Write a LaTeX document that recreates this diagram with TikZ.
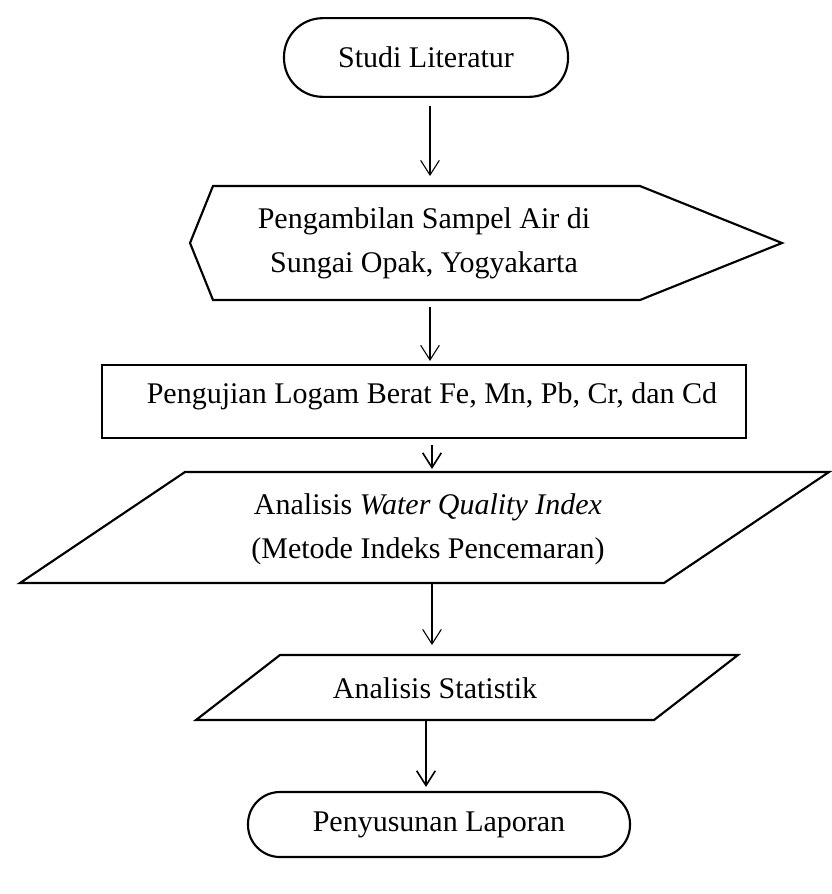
\documentclass[tikz,border=0pt]{standalone}
\usepackage{fontspec}
\setmainfont{Liberation Serif}
\usetikzlibrary{arrows.meta}
\begin{document}
\begin{tikzpicture}[x=0.75pt,y=-0.75pt,
  shapeline/.style={line width=1.6pt, line join=miter},
  lbl/.style={font=\fontsize{22.5}{33}\selectfont, align=center, inner sep=0pt},
  terminal/.style={draw, shapeline, rectangle, inner sep=0pt, font=\fontsize{22.5}{33}\selectfont},
  procbox/.style={draw, shapeline, rectangle, inner sep=0pt},
  thinarrow/.style={line width=0.8pt, -{Straight Barb[length=11pt,width=14pt,line width=0.8pt]}},
  thickarrow/.style={line width=1.5pt, -{Straight Barb[length=11pt,width=14pt,line width=1.2pt]}},
]
\useasboundingbox (0,0) rectangle (832,894);

% Terminal 1
\node[terminal, rounded corners=29pt, minimum width=213pt, minimum height=59pt] (t1) at (426,57.5) {Studi Literatur};

% Hexagon
\draw[shapeline] (190,243) -- (213,186) -- (640,186) -- (782,243) -- (640,300) -- (213,300) -- cycle;
\node[lbl] (hex) at (424,243) {Pengambilan Sampel Air di\\Sungai Opak, Yogyakarta};
\coordinate (hexN) at (430,186);
\coordinate (hexS) at (430,300);

% Rectangle
\node[procbox, minimum width=483pt, minimum height=54.75pt] (rect) at (424,401.5) {};
\node[lbl] (recttxt) at (432,396) {Pengujian Logam Berat Fe, Mn, Pb, Cr, dan Cd};

% Parallelogram 1
\draw[shapeline] (185,472) -- (829,472) -- (664,583) -- (20,583) -- cycle;
\node[lbl] (para1) at (428,529.5) {Analisis \textit{Water Quality Index}\\(Metode Indeks Pencemaran)};
\coordinate (p1N) at (432,472);
\coordinate (p1S) at (432,583);

% Parallelogram 2
\draw[shapeline] (280,655) -- (738,655) -- (654,720) -- (196,720) -- cycle;
\node[lbl] (para2) at (435,688) {Analisis Statistik};
\coordinate (p2N) at (432,655);
\coordinate (p2S) at (426,720);

% Terminal 2
\node[terminal, rounded corners=24pt, minimum width=286.5pt, minimum height=48.75pt] (t2) at (439,824.5) {Penyusunan Laporan};

% Arrows
\draw[thinarrow, shorten <=6pt, shorten >=7.5pt] (t1.south -| hexN) -- (hexN);
\draw[thinarrow, shorten <=5pt, shorten >=2.25pt] (hexS) -- (rect.north -| hexS);
\draw[thickarrow, shorten <=4.5pt, shorten >=2.25pt] (rect.south -| p1N) -- (p1N);
\draw[thinarrow, shorten >=7.5pt] (p1S) -- (p2N);
\draw[thickarrow, shorten >=3pt] (p2S) -- (t2.north -| p2S);
\end{tikzpicture}
\end{document}
